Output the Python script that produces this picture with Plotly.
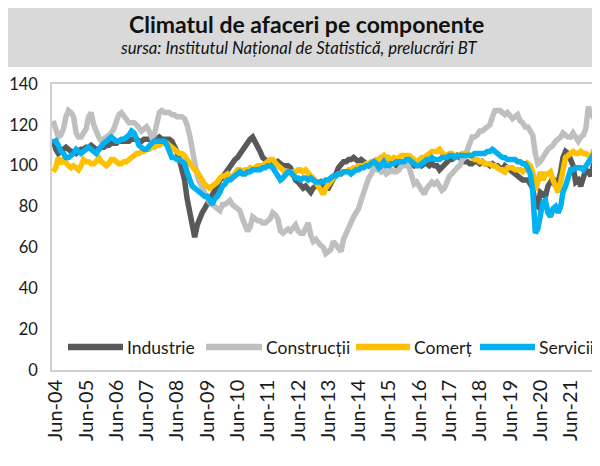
import pandas as pd
import plotly.graph_objects as go

# ---------------- data (monthly, May 2004 - Jun 2022) ----------------
start_month = "2004-05-01"

industrie = [
    113, 108, 106, 107, 108, 109, 108, 107,
    107, 106, 107, 108, 108, 109, 109, 110, 109, 108, 108, 109,
    109, 110, 110, 111, 111, 111, 112, 112, 112, 112, 112, 113,
    113, 113, 112, 112, 113, 113, 113, 114, 113, 113, 114, 113,
    113, 113, 113, 112, 110, 107, 103, 99, 93, 84, 77, 70,
    65, 71, 75, 77, 79, 81, 83, 85, 88, 90, 93, 94,
    96, 98, 100, 102, 103, 104, 106, 107, 110, 112, 113, 114,
    112, 109, 107, 104, 103, 102, 102, 102, 101, 102, 101, 100,
    100, 100, 99, 95, 93, 92, 90, 89, 90, 88, 87, 89,
    90, 91, 92, 90, 89, 89, 91, 93, 96, 99, 101, 102,
    102, 103, 103, 104, 103, 102, 103, 102, 101, 100, 101, 101,
    102, 103, 104, 104, 104, 103, 103, 102, 100, 100, 100, 101,
    102, 101, 101, 100, 101, 101, 100, 101, 101, 100, 101, 100,
    100, 98, 99, 101, 102, 103, 103, 104, 105, 104, 103, 102,
    102, 101, 101, 102, 102, 101, 102, 101, 101, 100, 101, 100,
    100, 99, 98, 100, 99, 98, 97, 96, 95, 94, 93, 93,
    93, 91, 89, 81, 80, 87, 86, 85, 90, 92, 94, 90,
    92, 97, 104, 107, 106, 103, 100, 92, 93, 90, 94, 98,
    97, 95, 100, 100, 101, 102,
]

constructii = [
    122, 118, 114, 115, 118, 124, 127, 126,
    124, 116, 114, 114, 116, 118, 124, 126, 120, 116, 114, 112,
    113, 114, 115, 116, 118, 122, 125, 126, 124, 122, 121, 121,
    121, 120, 119, 117, 118, 119, 117, 114, 115, 122, 126, 127,
    126, 126, 126, 125, 125, 124, 124, 124, 123, 120, 115, 108,
    100, 95, 92, 89, 86, 84, 82, 81, 80, 79, 78, 81,
    81, 82, 83, 81, 80, 79, 78, 74, 71, 68, 70, 75,
    74, 73, 73, 72, 72, 73, 74, 77, 76, 74, 68, 67,
    68, 69, 68, 70, 71, 68, 67, 67, 70, 72, 66, 63,
    64, 62, 61, 60, 57, 58, 59, 63, 61, 60, 58, 64,
    67, 71, 73, 75, 77, 79, 83, 87, 91, 94, 96, 99,
    98, 98, 97, 98, 96, 97, 98, 97, 97, 98, 100, 100,
    101, 99, 94, 91, 92, 90, 88, 86, 89, 91, 92, 91,
    92, 90, 88, 89, 92, 95, 96, 98, 99, 100, 103, 104,
    108, 112, 114, 114, 115, 117, 117, 118, 119, 120, 124, 127,
    127, 127, 126, 125, 126, 124, 123, 124, 125, 122, 121, 119,
    119, 117, 115, 106, 101, 102, 104, 107, 108, 109, 110, 112,
    113, 114, 116, 115, 114, 114, 116, 114, 112, 114, 115, 118,
    129, 125, 124, 121, 118, 117,
]

comert = [
    97, 99, 104, 101, 103, 101, 100, 99,
    100, 99, 98, 100, 103, 102, 102, 101, 101, 102, 104, 102,
    101, 100, 101, 103, 103, 102, 101, 101, 102, 102, 103, 104,
    105, 106, 106, 107, 107, 108, 108, 109, 109, 110, 110, 111,
    111, 111, 110, 109, 108, 107, 106, 106, 105, 103, 101, 99,
    98, 97, 95, 93, 91, 90, 89, 90, 91, 92, 94, 95,
    95, 96, 95, 94, 96, 98, 98, 97, 98, 98, 99, 98,
    99, 100, 100, 100, 101, 102, 103, 103, 101, 100, 99, 98,
    96, 97, 96, 97, 97, 98, 98, 97, 98, 96, 95, 94,
    92, 90, 88, 86, 89, 91, 92, 94, 95, 96, 96, 97,
    97, 98, 98, 99, 99, 100, 100, 100, 101, 101, 102, 102,
    103, 103, 104, 105, 103, 104, 103, 104, 103, 104, 105, 105,
    105, 105, 104, 103, 102, 103, 104, 104, 105, 106, 107, 107,
    107, 108, 107, 105, 105, 106, 106, 105, 105, 105, 106, 106,
    106, 105, 104, 103, 103, 102, 102, 101, 101, 101, 100, 100,
    99, 98, 98, 97, 99, 99, 99, 98, 98, 98, 97, 98,
    101, 100, 97, 88, 92, 97, 93, 96, 96, 97, 93, 90,
    87, 92, 99, 104, 105, 106, 107, 106, 106, 107, 106, 106,
    105, 104, 107, 107, 106, 106,
]

servicii = [
    111, 112, 110, 107, 106, 104, 104, 105,
    106, 108, 107, 106, 107, 108, 109, 108, 107, 106, 108, 110,
    111, 112, 113, 114, 113, 112, 112, 113, 113, 114, 115, 117,
    116, 113, 110, 109, 108, 108, 110, 111, 112, 112, 112, 112,
    112, 110, 107, 104, 104, 103, 103, 102, 101, 97, 93, 90,
    89, 88, 87, 86, 85, 85, 83, 81, 84, 85, 87, 90,
    91, 93, 93, 94, 95, 96, 97, 96, 96, 97, 97, 98,
    98, 98, 98, 99, 99, 100, 100, 99, 97, 96, 93, 94,
    96, 97, 97, 95, 94, 94, 93, 94, 94, 93, 94, 93,
    92, 92, 92, 92, 93, 93, 94, 95, 95, 96, 96, 97,
    97, 97, 96, 97, 98, 98, 99, 99, 100, 100, 101, 102,
    101, 99, 100, 102, 100, 100, 101, 101, 102, 102, 102, 102,
    103, 103, 102, 101, 100, 100, 101, 102, 103, 103, 104, 103,
    103, 103, 104, 104, 104, 105, 105, 104, 105, 105, 105, 105,
    105, 105, 105, 106, 106, 106, 106, 106, 107, 107, 108, 107,
    106, 105, 104, 104, 103, 103, 103, 103, 102, 102, 101, 101,
    99, 96, 88, 67, 69, 78, 82, 83, 77, 75, 79, 80,
    77, 80, 87, 90, 95, 98, 98, 99, 99, 99, 98, 100,
    101, 104, 105, 107, 107, 106,
]

series_names = ["Industrie", "Construcții", "Comerț", "Servicii"]
series_colors = ["#595959", "#bfbfbf", "#ffc000", "#00b0f0"]
series_values = [industrie, constructii, comert, servicii]

title_text = "Climatul de afaceri pe componente"
subtitle_text = "sursa: Institutul Național de Statistică, prelucrări BT"

dates = pd.date_range(start_month, periods=len(industrie), freq="MS")

# ---------------- figure ----------------
# the page body adds an 8px offset; figure coordinates = window - 8
W, H = 600, 466
ML, MR, MT, MB = 44, 0, 76, 104
PW = W - ML - MR
PH = H - MT - MB
OFF = 8


def px_x(p):  # window pixel -> paper
    return (p - OFF - ML) / PW


def px_y(p):
    return (H - MB - (p - OFF)) / PH


fig = go.Figure()
for name, color, vals in zip(series_names, series_colors, series_values):
    fig.add_trace(go.Scatter(
        x=dates, y=vals, mode="lines", name=name,
        line=dict(color=color, width=5.5),
        showlegend=False, hoverinfo="skip",
    ))

fig.update_layout(
    template="none",
    width=W, height=H,
    margin=dict(l=ML, r=MR, t=MT, b=MB, autoexpand=False),
    paper_bgcolor="white",
    plot_bgcolor="white",
    font=dict(family="Lato, sans-serif", size=17, color="#1a1a1a"),
    xaxis=dict(
        type="date",
        range=["2004-04-16", "2022-08-26"],
        tick0="2004-06-01", dtick="M12", tickformat="%b-%y",
        tickangle=-90,
        tickfont=dict(family="Lato, sans-serif", size=20, color="#1a1a1a"),
        showgrid=False, zeroline=False,
        showline=True, linecolor="#d0d0d0", linewidth=1.5, mirror=True,
        ticks="", ticklabelstandoff=0, automargin=False,
        ticklabeloverflow="allow",
    ),
    yaxis=dict(
        range=[0, 140], dtick=20,
        tickfont=dict(family="Lato, sans-serif", size=16.5, color="#1a1a1a"),
        showgrid=False, zeroline=False,
        showline=True, linecolor="#d0d0d0", linewidth=1.5,
        ticks="", ticklabelstandoff=9, automargin=False,
    ),
)

# title box
fig.add_shape(type="rect", xref="paper", yref="paper",
              x0=px_x(8), x1=px_x(610), y0=px_y(67), y1=px_y(8),
              fillcolor="#d9d9d9", line=dict(width=0), layer="below")
fig.add_annotation(xref="paper", yref="paper", x=px_x(306), y=px_y(24),
                   text="<b>" + title_text + "</b>", showarrow=False,
                   xanchor="center", yanchor="middle",
                   font=dict(family="Lato, sans-serif", size=23, color="#111111"))
fig.add_annotation(xref="paper", yref="paper", x=px_x(298), y=px_y(48),
                   text="<i>" + subtitle_text + "</i>", showarrow=False,
                   xanchor="center", yanchor="middle",
                   font=dict(family="Lato, sans-serif", size=16.7, color="#111111"))

# legend (drawn inside plot area)
leg_y = px_y(347)
leg_items = [(68, 123, 125), (206, 262, 264), (356, 410, 412), (480, 535, 537)]
for (x0, x1, xt), name, color in zip(leg_items, series_names, series_colors):
    fig.add_shape(type="line", xref="paper", yref="paper",
                  x0=px_x(x0), x1=px_x(x1), y0=leg_y, y1=leg_y,
                  line=dict(color=color, width=6.5))
    fig.add_annotation(xref="paper", yref="paper", x=px_x(xt), y=leg_y,
                       text=name, showarrow=False, xanchor="left", yanchor="middle",
                       font=dict(family="Lato, sans-serif", size=17.5, color="#1a1a1a"))

fig.write_html("out.html")
